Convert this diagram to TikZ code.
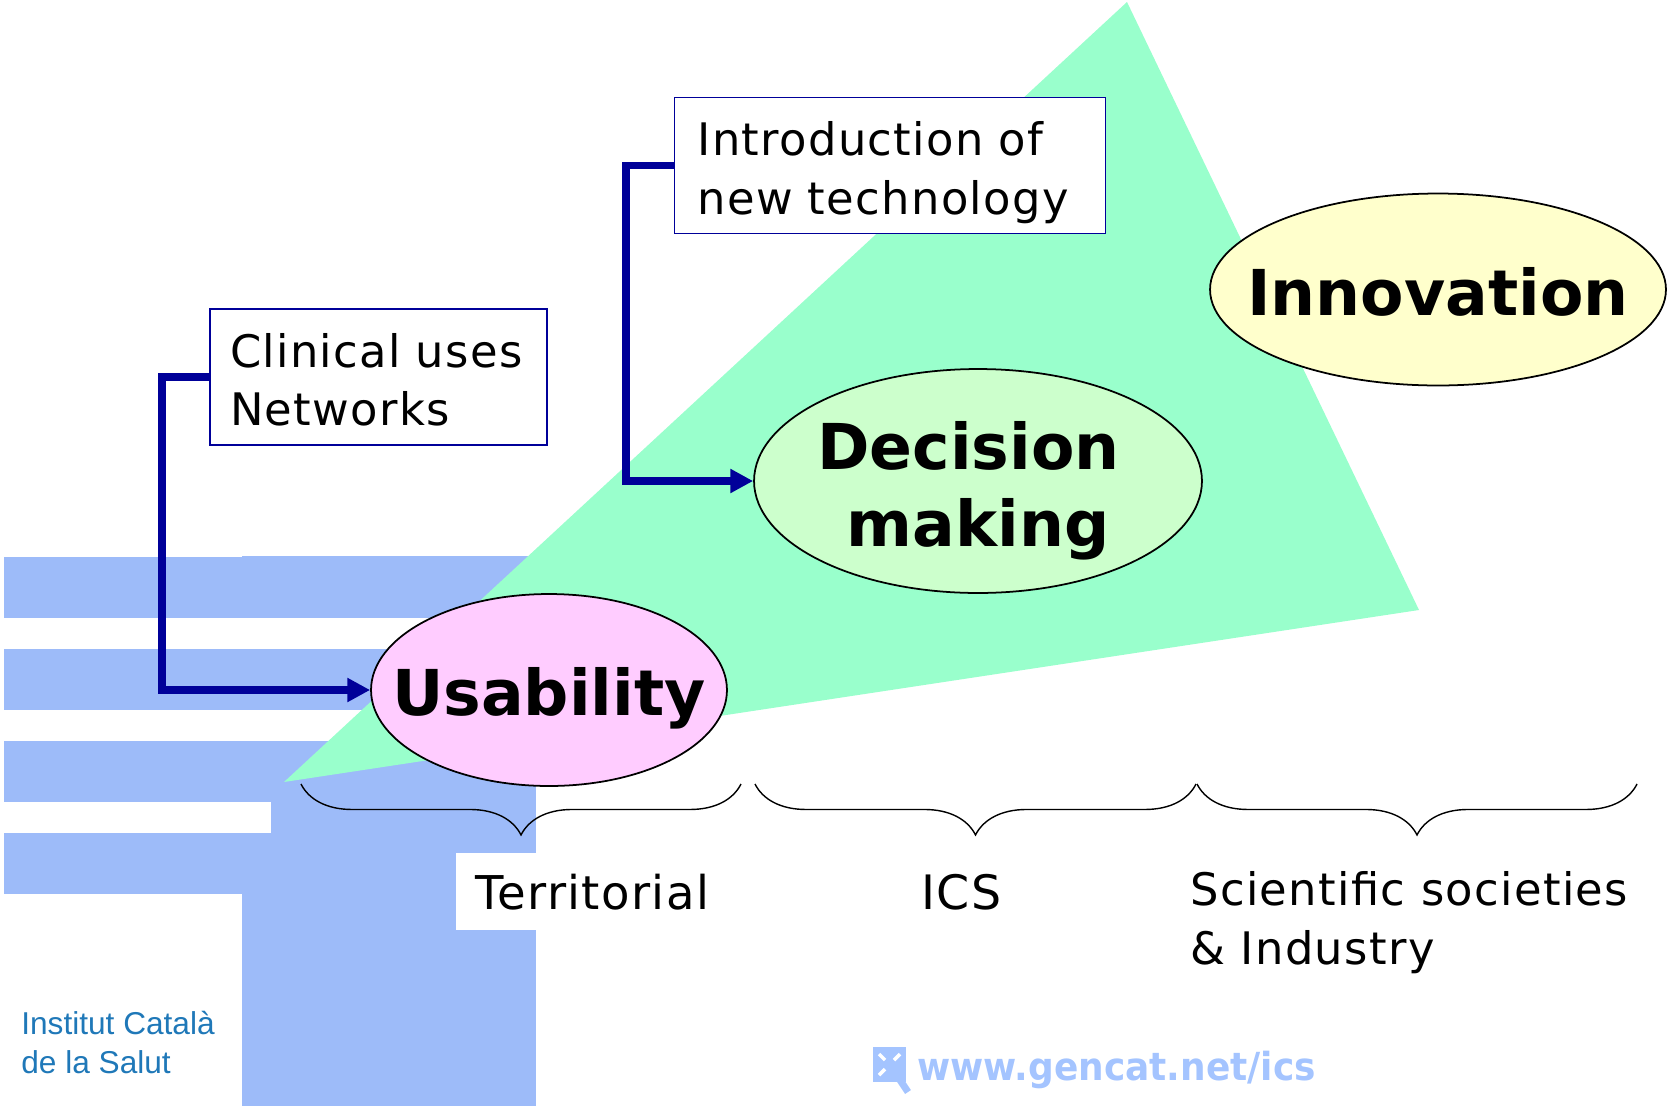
\documentclass[tikz,border=0pt]{standalone}
\usepackage{fontspec}
\usepackage{tikz}
\usetikzlibrary{arrows.meta,decorations.pathreplacing,shapes.geometric}
\setmainfont{DejaVu Sans}
\newfontfamily\arialfont{Liberation Sans}
\newfontfamily\webfont[FakeStretch=0.93]{DejaVu Sans Bold}
\newfontfamily\spacedfont[LetterSpace=3]{DejaVu Sans}
\newcommand{\nudged}[2]{\raisebox{-#1}[\height][\depth]{#2}}
\definecolor{logoblue}{HTML}{9DBBF9}
\definecolor{webblue}{HTML}{A4C4FF}
\definecolor{wedgegreen}{HTML}{99FFCC}
\definecolor{linkblue}{HTML}{000099}
\definecolor{instblue}{HTML}{1F78B8}
\definecolor{usepink}{HTML}{FFCCFF}
\definecolor{decigreen}{HTML}{CCFFCC}
\definecolor{innoyellow}{HTML}{FFFFCC}
\tikzset{
	labelbox/.style={draw=linkblue,fill=white,line width=0.9pt,align=left,inner xsep=0.46cm,inner ysep=0pt,text width=7.7cm,minimum height=2.72cm,font=\spacedfont\fontsize{25.5}{33.3}\selectfont},
	stage/.style={draw=black,line width=1pt,ellipse,align=center,inner xsep=-3cm,inner ysep=-1.5cm,font=\fontsize{36}{44}\selectfont\bfseries},
	link/.style={draw=linkblue,line width=4.5pt,-{Triangle[length=13pt,width=13pt]}},
	bracket/.style={draw=black,line width=0.8pt,decorate,decoration={brace,mirror,amplitude=29pt}},
	plain/.style={align=left,inner sep=0pt,anchor=base west,font=\spacedfont\fontsize{25.5}{33.3}\selectfont},
}
\begin{document}
\begin{tikzpicture}[x=0.02cm,y=-0.02cm]
	\useasboundingbox (0,0) rectangle (1669,1109);
	\fill[logoblue] (3.5,557) rectangle (536,618);
	\fill[logoblue] (3.5,649) rectangle (536,710);
	\fill[logoblue] (3.5,741) rectangle (536,802);
	\fill[logoblue] (3.5,833) rectangle (536,894);
	\fill[logoblue] (242,556) rectangle (536,618);
	\fill[logoblue] (271,741) rectangle (536,1106);
	\fill[logoblue] (242,833) rectangle (536,1106);
	\fill[white] (456,853) rectangle (536,930);
	\fill[wedgegreen] (1127,2) -- (1419,610) -- (284,782) -- cycle;
	\node[labelbox] (intro) at (890,165.5) {\nudged{4pt}{Introduction of}\\\nudged{4pt}{new technology}};
	\node[labelbox,inner xsep=0.4cm,text width=5.94cm] (clinical) at (378.5,377) {\nudged{1.6pt}{Clinical uses}\\\nudged{1.6pt}{Networks}};
	\node[stage,fill=usepink,minimum width=7.12cm,minimum height=3.84cm] (usability) at (549,690) {\nudged{4.8pt}{Usability}};
	\node[stage,fill=decigreen,minimum width=8.96cm,minimum height=4.48cm] (decision) at (978,481) {\nudged{5.6pt}{Decision}\hspace*{11pt}\\\nudged{5.6pt}{making}};
	\node[stage,fill=innoyellow,minimum width=9.12cm,minimum height=3.84cm] (innovation) at (1438,289.5) {\nudged{1.2pt}{Innovation}};
	\coordinate (bendclinical) at (162,377);
	\coordinate (bendintro) at (626,165);
	\draw[link] (clinical.west) -- (clinical.west -| bendclinical) |- (usability.west);
	\draw[link] (intro.west) -- (intro.west -| bendintro) |- (decision.west);
	\coordinate (bracea) at (301,784);
	\coordinate (braceb) at (741,784);
	\coordinate (bracec) at (755,784);
	\coordinate (braced) at (1196,784);
	\coordinate (bracee) at (1197,784);
	\coordinate (bracef) at (1637,784);
	\draw[bracket] (bracea) -- (braceb);
	\draw[bracket] (bracec) -- (braced);
	\draw[bracket] (bracee) -- (bracef);
	\node[plain,font=\spacedfont\fontsize{26.5}{33.3}\selectfont] (territorial) at (475,909) {Territorial};
	\node[plain,font=\spacedfont\fontsize{27}{33.3}\selectfont] (ics) at (921,909) {ICS};
	\node[plain] (societies) at (1190,964) {Scientific societies\\\& Industry};
	\node[align=left,inner sep=0pt,anchor=base west,text=instblue,font=\arialfont\fontsize{18}{21.8}\selectfont] (institut) at (21,1073) {Institut Català\\de la Salut};
	\node[inner sep=0pt,anchor=base west,text=webblue,font=\webfont\fontsize{22}{26}\selectfont] (website) at (917,1080) {www.gencat.net/ics};
	\fill[webblue] (873,1047) rectangle (906,1082);
	\draw[white,line width=2pt] (879,1054) -- (885,1060) (900,1054) -- (894,1060) (879,1075) -- (885,1069);
	\draw[webblue,line width=4pt] (900,1080) -- (908,1092);
\end{tikzpicture}
\end{document}
